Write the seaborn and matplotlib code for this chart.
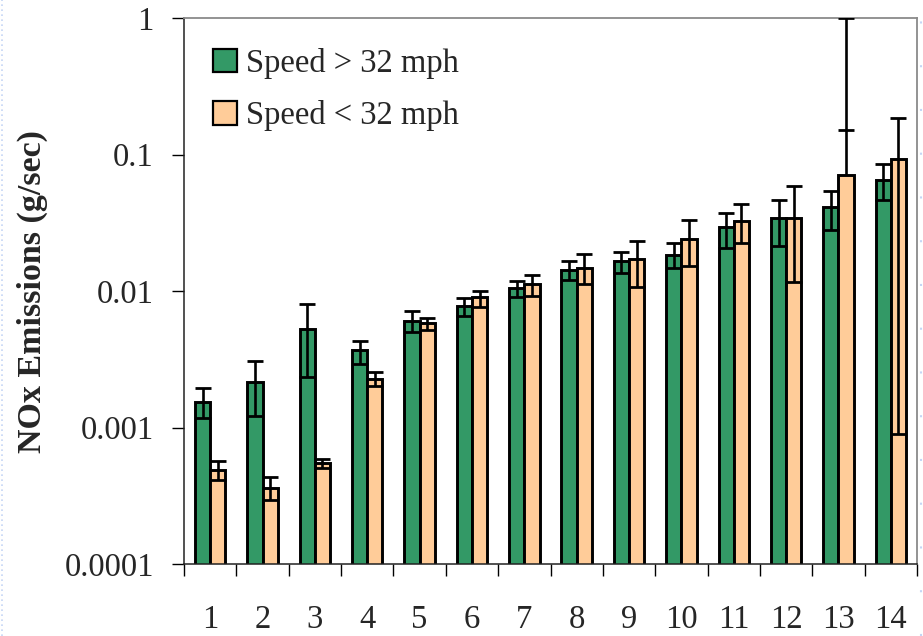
import matplotlib
matplotlib.use("Agg")
import matplotlib.pyplot as plt
import seaborn as sns
import pandas as pd
import numpy as np
from matplotlib.patches import Patch
from matplotlib.lines import Line2D

categories = [str(i) for i in range(1, 15)]
series_names = ["Speed > 32 mph", "Speed < 32 mph"]

fast = [0.00153, 0.00217, 0.00524, 0.00372, 0.00607, 0.00773, 0.01047,
        0.01425, 0.01659, 0.01850, 0.02943, 0.0340, 0.0412, 0.0654]
fast_hi = [0.00194, 0.00309, 0.00803, 0.00432, 0.00710, 0.00893, 0.01178,
           0.01667, 0.01941, 0.02240, 0.0371, 0.0464, 0.0540, 0.0857]
fast_lo = [0.00117, 0.00122, 0.00233, 0.00292, 0.00504, 0.00659, 0.00899,
           0.01204, 0.01348, 0.01478, 0.02066, 0.0215, 0.0281, 0.0464]

slow = [0.000486, 0.000358, 0.000550, 0.00227, 0.00580, 0.00899, 0.01132,
        0.01482, 0.01725, 0.02416, 0.0327, 0.0340, 0.0708, 0.0927]
slow_hi = [0.000565, 0.000434, 0.000591, 0.00254, 0.00638, 0.01005, 0.01310,
           0.01857, 0.02324, 0.0330, 0.0432, 0.0585, 1.0, 0.185]
slow_lo = [0.000415, 0.000296, 0.000502, 0.00200, 0.0052, 0.00767, 0.00924,
           0.01119, 0.01075, 0.01525, 0.02235, 0.01164, 0.152, 0.000896]

ytick_vals = [0.0001, 0.001, 0.01, 0.1, 1]
ytick_labels = ["0.0001", "0.001", "0.01", "0.1", "1"]

colors = ["#339966", "#FFCC99"]

df = pd.DataFrame({
    "cat": categories * 2,
    "val": fast + slow,
    "series": [series_names[0]] * 14 + [series_names[1]] * 14,
})

sns.set_style("white")
plt.rcParams["font.family"] = ["Liberation Serif", "DejaVu Serif"]

fig = plt.figure(figsize=(9.23, 6.36), dpi=100)
ax = fig.add_axes([184 / 923, 1 - 564 / 636, (917 - 184) / 923, (564 - 18) / 636])

sns.barplot(data=df, x="cat", y="val", hue="series", order=categories,
            hue_order=series_names, palette=colors, width=0.58,
            edgecolor="black", linewidth=2.1, saturation=1,
            errorbar=None, legend=False, ax=ax)
ax.set_yscale("log")

bounds = [(fast, fast_lo, fast_hi), (slow, slow_lo, slow_hi)]
for cont, (vals, lo, hi) in zip(ax.containers, bounds):
    xs = [b.get_x() + b.get_width() / 2 for b in cont]
    v = np.array(vals)
    lo = np.array(lo)
    hi = np.array(hi)
    low_end = np.minimum(lo, v)
    high_end = np.maximum(hi, v)
    ax.errorbar(xs, v, yerr=[v - low_end, high_end - v], fmt="none",
                ecolor="black", elinewidth=1.9, capsize=0, zorder=5)
    ax.plot(xs, lo, linestyle="none", marker="_", markersize=11.5,
            markeredgewidth=2.0, color="black", zorder=6)
    ax.plot(xs, hi, linestyle="none", marker="_", markersize=11.5,
            markeredgewidth=2.0, color="black", zorder=6)

ax.set_ylim(0.0001, 1)
ax.set_xlim(-0.5, 13.5)
ax.set_yticks(ytick_vals)
ax.set_yticklabels(ytick_labels)
ax.yaxis.set_minor_locator(matplotlib.ticker.NullLocator())
ax.tick_params(axis="y", which="major", direction="out", length=8.6, width=1.0,
               pad=13, labelsize=23.5, color="black", left=True)

ax.set_xticks(np.arange(-0.5, 14, 1.0))
ax.set_xticklabels([""] * 15)
ax.set_xticks(np.arange(14), minor=True)
ax.set_xticklabels(categories, minor=True)
ax.tick_params(axis="x", which="major", direction="out", length=8.6, width=1.0,
               color="black", bottom=True)
ax.tick_params(axis="x", which="minor", length=0, pad=29, labelsize=23.5)

ax.set_xlabel("")
ax.set_ylabel("NOx Emissions (g/sec)", fontsize=24.5, fontweight="bold")
ax.yaxis.set_label_coords(32 / 923, 1 - 291.7 / 636, transform=fig.transFigure)
ax.yaxis.label.set_verticalalignment("center")

for s in ["left", "bottom"]:
    ax.spines[s].set_color("#222222")
    ax.spines[s].set_linewidth(1.1)
for s in ["top", "right"]:
    ax.spines[s].set_visible(True)
    ax.spines[s].set_color("#8a8a8a")
    ax.spines[s].set_linewidth(1.3)

handles = [Patch(facecolor=c, edgecolor="black", linewidth=1.6) for c in colors]
ax.legend(handles, series_names, loc="upper left",
          bbox_to_anchor=(190 / 923, 1 - 25 / 636), bbox_transform=fig.transFigure,
          frameon=False, fontsize=23.5, handlelength=0.73, handleheight=0.73,
          handletextpad=0.28, labelspacing=0.66, borderpad=0.2)

# light dotted page-edge guides
fig.add_artist(Line2D([2 / 923, 2 / 923], [0, 1], transform=fig.transFigure,
                      color="#c5d5f5", linestyle=(0, (1, 2)), linewidth=1.2))
fig.add_artist(Line2D([921 / 923, 921 / 923], [0, 1], transform=fig.transFigure,
                      color="#c5d5f5", linestyle=(0, (1, 20)), linewidth=1.5))

fig.savefig("out.png", dpi=100)
